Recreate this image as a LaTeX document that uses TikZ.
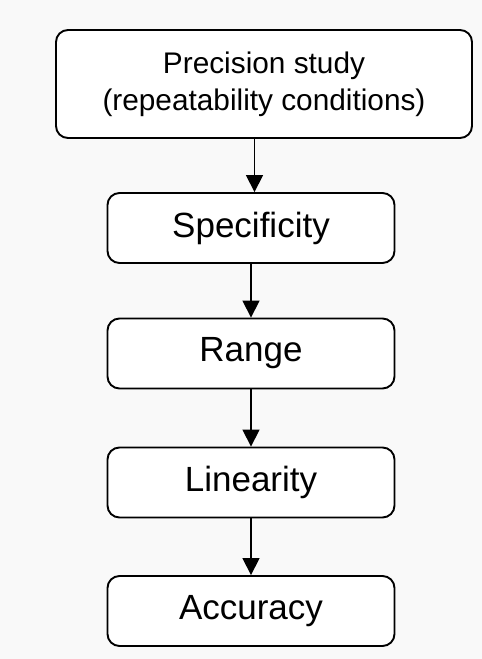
\documentclass[tikz,border=0pt]{standalone}
\usepackage{fontspec}
\setmainfont{Liberation Sans}
\usetikzlibrary{arrows.meta}
\definecolor{bgc}{gray}{0.975}
\tikzset{
  box/.style={draw=black, line width=1.9pt, rounded corners=12pt, fill=white, align=center, inner sep=0pt},
  small/.style={box, minimum width=287pt, minimum height=70pt, font=\fontsize{35}{40}\selectfont},
  arr/.style={line width=1.7pt, -{Triangle[length=17pt,width=17pt]}},
}
\begin{document}
\begin{tikzpicture}[x=1pt,y=-1pt]
\fill[bgc] (0,0) rectangle (482,659);
\useasboundingbox (0,0) rectangle (482,659);
\node[box, minimum width=416pt, minimum height=108pt, font=\fontsize{29.8}{37}\selectfont] (top) at (264,84) {Precision study\\(repeatability conditions)};
\node[small] (spec) at (251,228) {Specificity};
\node[small] (range) at (251,353.5) {Range};
\node[small] (lin) at (251,482.5) {Linearity};
\node[small] (acc) at (251,611) {Accuracy};
\coordinate (a1) at ([xshift=-9.5pt]top.south);
\draw[arr] (a1) -- (a1 |- spec.north);
\draw[arr] (spec) -- (range);
\draw[arr] (range) -- (lin);
\draw[arr] (lin) -- (acc);
\end{tikzpicture}
\end{document}
